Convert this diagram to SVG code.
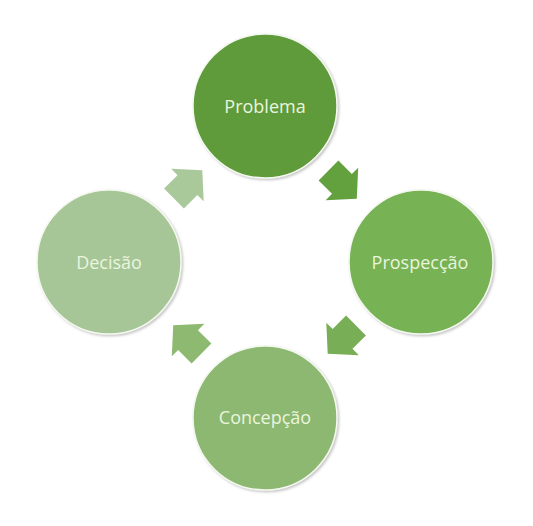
<svg xmlns="http://www.w3.org/2000/svg" width="533" height="526" viewBox="0 0 533 526">
<defs>
<style>
.node circle{stroke:#f4f8ef;stroke-width:1.5;filter:url(#sh)}
.node text{font-family:"Open Sans","Noto Sans",sans-serif;font-size:18px;fill:#eaf5dd;text-anchor:middle}
</style>
<filter id="sh" x="-20%" y="-20%" width="140%" height="140%">
<feDropShadow dx="1.5" dy="1.5" stdDeviation="1.2" flood-color="#808080" flood-opacity="0.45"/>
</filter>
<path id="arr" d="M0,-14 L19,-14 L19,-23 L40,0 L19,23 L19,14 L0,14 Z"/>
</defs>
<rect width="533" height="526" fill="#ffffff"/>
<g id="connectors">
<use href="#arr" fill="#63a03e" transform="translate(328.5,170.5) rotate(45)"/>
<use href="#arr" fill="#78ae55" transform="translate(356,325.5) rotate(135)"/>
<use href="#arr" fill="#8dba70" transform="translate(201.5,353.5) rotate(225)"/>
<use href="#arr" fill="#a9c99b" transform="translate(174,198.5) rotate(315)"/>
</g>
<g id="problema" class="node">
<circle cx="265" cy="106" r="72" fill="#5e9b3a"/>
<text x="265" y="112.5">Problema</text>
</g>
<g id="prospeccao" class="node">
<circle cx="421" cy="262" r="72" fill="#77b255"/>
<text x="420" y="268.5">Prospecção</text>
</g>
<g id="concepcao" class="node">
<circle cx="265" cy="418" r="72" fill="#8db872"/>
<text x="265" y="424">Concepção</text>
</g>
<g id="decisao" class="node">
<circle cx="109" cy="262" r="72" fill="#a7c697"/>
<text x="109" y="268.5">Decisão</text>
</g>
</svg>
